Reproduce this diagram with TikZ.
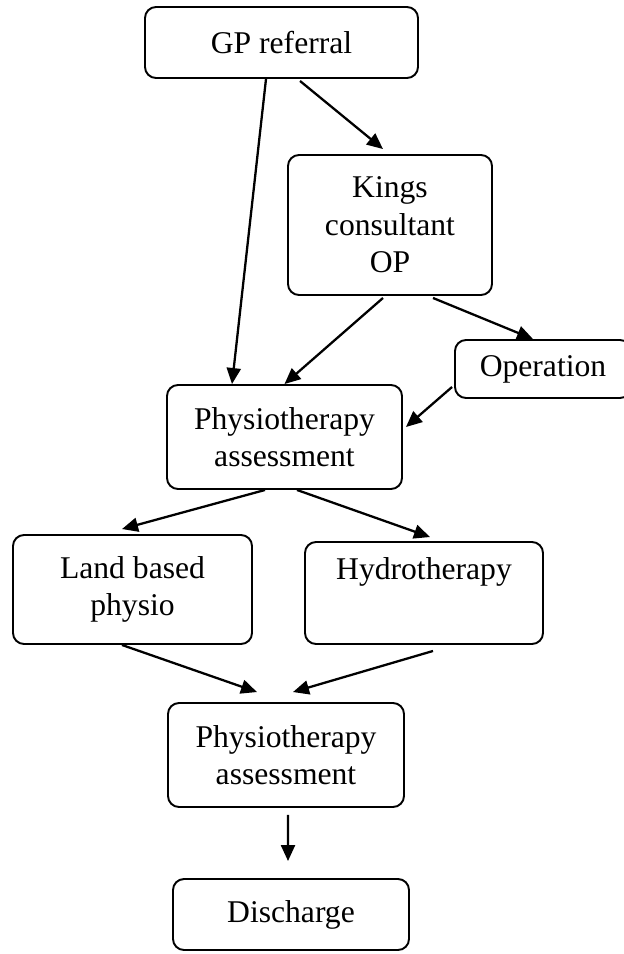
\documentclass[tikz,border=0pt]{standalone}
\usepackage{fontspec}
\setmainfont{Liberation Serif}
\usetikzlibrary{shapes.geometric, arrows, arrows.meta, positioning, calc}

\begin{document}
\begin{tikzpicture}[node distance=2cm]
            \tikzstyle{box} = [rectangle, rounded corners=0.22cm, draw=black, line width=1.1pt, align=center, font=\fontsize{18}{21.3}\selectfont]
            \tikzstyle{single} = [box, minimum width=4.72cm, minimum height=1.42cm]
            \tikzstyle{double} = [box, minimum width=4.72cm, minimum height=2.08cm]
            \tikzstyle{arrow} = [line width=1.3pt, -{Triangle[length=0.32cm, width=0.28cm]}]

            \useasboundingbox (0,0) rectangle (12.48,-19.08);

            \node (gp) [single, minimum width=5.46cm] at (5.63,-0.85) {GP referral};
            \node (kings) [box, minimum width=4.08cm, minimum height=2.8cm, below of=gp, xshift=2.17cm, yshift=-1.65cm] {Kings\\consultant\\OP};
            \node (op) [box, minimum width=3.52cm, minimum height=1.16cm, below of=kings, xshift=3.06cm, yshift=-0.88cm] {Operation};
            \node (phys1) [double, minimum width=4.7cm, below of=kings, xshift=-2.11cm, yshift=-2.24cm] {Physiotherapy\\assessment};

            \node (land) [double, minimum width=4.78cm, minimum height=2.18cm, below of=phys1, xshift=-3.04cm, yshift=-1.05cm] {Land based\\physio};
            \node (hydro) [double, minimum width=4.76cm, minimum height=2.04cm, below of=phys1, xshift=2.79cm, yshift=-1.12cm] {Hydrotherapy\\\strut};

            \node (phys2) [double, below of=phys1, xshift=0.03cm, yshift=-4.36cm] {Physiotherapy\\assessment};
            \node (dis) [single, below of=phys2, xshift=0.1cm, yshift=-1.19cm] {Discharge};

            \draw [arrow] ([xshift=-0.31cm]gp.south) -- ([xshift=-1.05cm]phys1.north);
            \draw [arrow] ([xshift=0.37cm, yshift=-0.04cm]gp.south) -- ([xshift=-0.14cm, yshift=0.1cm]kings.north);
            \draw [arrow] ([xshift=-0.14cm, yshift=-0.04cm]kings.south) -- (phys1.north);
            \draw [arrow] ([xshift=0.86cm, yshift=-0.04cm]kings.south) -- ([xshift=-0.2cm]op.north);
            \draw [arrow] ([xshift=-0.04cm, yshift=-0.36cm]op.west) -- ([xshift=0.06cm, yshift=0.2cm]phys1.east);
            \draw [arrow] ([xshift=-0.39cm]phys1.south) -- ([xshift=-0.21cm, yshift=0.1cm]land.north);
            \draw [arrow] ([xshift=0.25cm]phys1.south) -- ([xshift=0.12cm, yshift=0.08cm]hydro.north);
            \draw [arrow] ([xshift=-0.21cm]land.south) -- ([xshift=-0.58cm, yshift=0.2cm]phys2.north);
            \draw [arrow] ([xshift=0.18cm, yshift=-0.12cm]hydro.south) -- ([xshift=0.14cm, yshift=0.2cm]phys2.north);
            \draw [arrow] ([xshift=0.04cm, yshift=-0.14cm]phys2.south) -- ([xshift=-0.06cm, yshift=0.34cm]dis.north);
        \end{tikzpicture}
\end{document}
